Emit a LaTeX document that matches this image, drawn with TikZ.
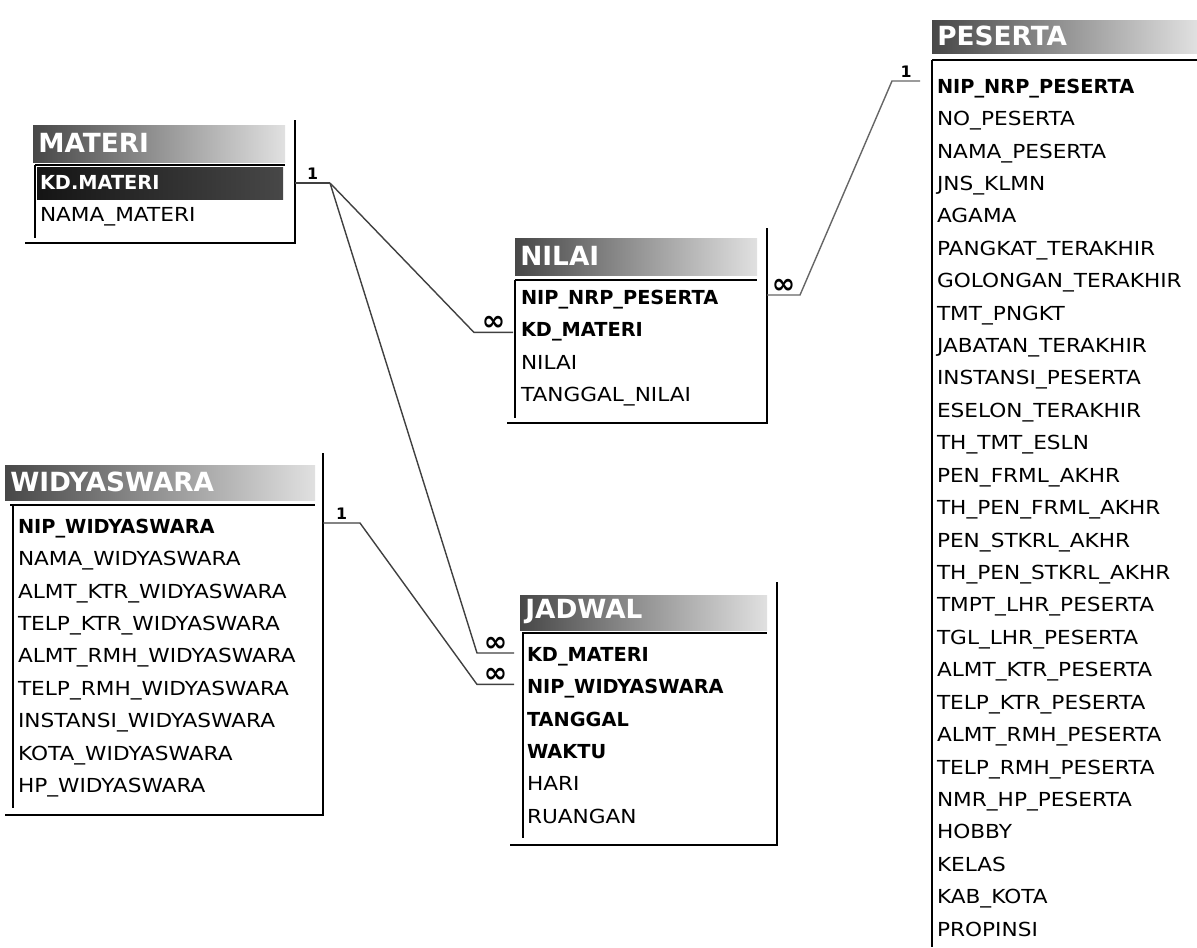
\documentclass[tikz,border=0pt]{standalone}
\usepackage{fontspec}
\setmainfont{DejaVu Sans}[FakeStretch=1.12, BoldFeatures={FakeStretch=1.0}]
\usetikzlibrary{positioning}
\newcommand\fieldfont{\fontsize{11}{13}\selectfont}
\newcommand\titlefont{\fontsize{15}{17}\selectfont\bfseries}
\begin{document}
\begin{tikzpicture}[
    x=0.02cm, y=-0.02cm,
    node distance=0.262cm,
    field/.style={anchor=west, inner sep=0pt, outer sep=0pt, text height=9pt, text depth=2pt, font=\fieldfont},
    key/.style={field, font=\fieldfont\bfseries},
    nextrow/.style={below=of #1.south west, anchor=north west},
    tabletitle/.style={anchor=west, inner sep=0pt, text=white, font=\titlefont},
    titlebar/.style={left color=black!72, right color=black!12},
    rule/.style={line width=1pt},
    frame/.style={line width=1.4pt},
    rel/.style={line width=0.8pt, black!75},
    card/.style={font=\bfseries\small, inner sep=1.5pt, text=black},
    many/.style={card, inner sep=0.5pt, font=\fontsize{16}{16}\selectfont\bfseries}
]
    \useasboundingbox (0,0) rectangle (1197,947);

    % MATERI
    \shade[titlebar] (33,125) rectangle (285,162);
    \node[tabletitle] (materi) at (38,143) {MATERI};
    \fill[left color=black!92, right color=black!72] (37,167) rectangle (283,199);
    \draw[rule] (35,165) -- (285,165);
    \draw[rule] (35,165) -- (35,238);
    \coordinate (materi-se) at (295,243);
    \draw[frame] (295,120) -- (materi-se) -- (25,243);
    \node[key, text=white] (mat-kd) at (40,183) {KD.MATERI};
    \node[field, nextrow=mat-kd] (mat-nama) {NAMA\_MATERI};

    % NILAI
    \shade[titlebar] (515,238) rectangle (757,275);
    \node[tabletitle] (nilai) at (520,256) {NILAI};
    \draw[rule] (515,280) -- (757,280);
    \draw[rule] (515,280) -- (515,418);
    \coordinate (nilai-se) at (767,423);
    \draw[frame] (767,228) -- (nilai-se) -- (507,423);
    \node[key] (nil-nip) at (521,298) {NIP\_NRP\_PESERTA};
    \node[key, nextrow=nil-nip] (nil-kd) {KD\_MATERI};
    \node[field, nextrow=nil-kd] (nil-nilai) {NILAI};
    \node[field, nextrow=nil-nilai] (nil-tgl) {TANGGAL\_NILAI};

    % WIDYASWARA
    \shade[titlebar] (5,465) rectangle (315,500);
    \node[tabletitle] (widya) at (10,482) {WIDYASWARA};
    \draw[rule] (10,505) -- (315,505);
    \draw[rule] (13,505) -- (13,808);
    \coordinate (widya-se) at (323,815);
    \draw[frame] (323,453) -- (widya-se) -- (5,815);
    \node[key] (wid-nip) at (18,527) {NIP\_WIDYASWARA};
    \node[field, nextrow=wid-nip] (wid-nama) {NAMA\_WIDYASWARA};
    \node[field, nextrow=wid-nama] (wid-almtk) {ALMT\_KTR\_WIDYASWARA};
    \node[field, nextrow=wid-almtk] (wid-telpk) {TELP\_KTR\_WIDYASWARA};
    \node[field, nextrow=wid-telpk] (wid-almtr) {ALMT\_RMH\_WIDYASWARA};
    \node[field, nextrow=wid-almtr] (wid-telpr) {TELP\_RMH\_WIDYASWARA};
    \node[field, nextrow=wid-telpr] (wid-inst) {INSTANSI\_WIDYASWARA};
    \node[field, nextrow=wid-inst] (wid-kota) {KOTA\_WIDYASWARA};
    \node[field, nextrow=wid-kota] (wid-hp) {HP\_WIDYASWARA};

    % JADWAL
    \shade[titlebar] (520,595) rectangle (767,630);
    \node[tabletitle] (jadwal) at (525,612) {JADWAL};
    \draw[rule] (522,633) -- (767,633);
    \draw[rule] (523,633) -- (523,838);
    \coordinate (jadwal-se) at (777,845);
    \draw[frame] (777,582) -- (jadwal-se) -- (510,845);
    \node[key] (jad-kd) at (527,655) {KD\_MATERI};
    \node[key, nextrow=jad-kd] (jad-nip) {NIP\_WIDYASWARA};
    \node[key, nextrow=jad-nip] (jad-tgl) {TANGGAL};
    \node[key, nextrow=jad-tgl] (jad-waktu) {WAKTU};
    \node[field, nextrow=jad-waktu] (jad-hari) {HARI};
    \node[field, nextrow=jad-hari] (jad-ruang) {RUANGAN};

    % PESERTA
    \shade[titlebar] (932,20) rectangle (1197,53);
    \node[tabletitle] (peserta) at (937,36) {PESERTA};
    \draw[rule] (932,60) -- (1197,60);
    \draw[rule] (932,60) -- (932,947);
    \node[key] (pes-nip) at (937,87) {NIP\_NRP\_PESERTA};
    \node[field, nextrow=pes-nip] (pes-no) {NO\_PESERTA};
    \node[field, nextrow=pes-no] (pes-nama) {NAMA\_PESERTA};
    \node[field, nextrow=pes-nama] (pes-jns) {JNS\_KLMN};
    \node[field, nextrow=pes-jns] (pes-agama) {AGAMA};
    \node[field, nextrow=pes-agama] (pes-pangkat) {PANGKAT\_TERAKHIR};
    \node[field, nextrow=pes-pangkat] (pes-gol) {GOLONGAN\_TERAKHIR};
    \node[field, nextrow=pes-gol] (pes-tmt) {TMT\_PNGKT};
    \node[field, nextrow=pes-tmt] (pes-jab) {JABATAN\_TERAKHIR};
    \node[field, nextrow=pes-jab] (pes-inst) {INSTANSI\_PESERTA};
    \node[field, nextrow=pes-inst] (pes-eselon) {ESELON\_TERAKHIR};
    \node[field, nextrow=pes-eselon] (pes-thtmt) {TH\_TMT\_ESLN};
    \node[field, nextrow=pes-thtmt] (pes-frml) {PEN\_FRML\_AKHR};
    \node[field, nextrow=pes-frml] (pes-thfrml) {TH\_PEN\_FRML\_AKHR};
    \node[field, nextrow=pes-thfrml] (pes-stkrl) {PEN\_STKRL\_AKHR};
    \node[field, nextrow=pes-stkrl] (pes-thstkrl) {TH\_PEN\_STKRL\_AKHR};
    \node[field, nextrow=pes-thstkrl] (pes-tmpt) {TMPT\_LHR\_PESERTA};
    \node[field, nextrow=pes-tmpt] (pes-tgl) {TGL\_LHR\_PESERTA};
    \node[field, nextrow=pes-tgl] (pes-almtk) {ALMT\_KTR\_PESERTA};
    \node[field, nextrow=pes-almtk] (pes-telpk) {TELP\_KTR\_PESERTA};
    \node[field, nextrow=pes-telpk] (pes-almtr) {ALMT\_RMH\_PESERTA};
    \node[field, nextrow=pes-almtr] (pes-telpr) {TELP\_RMH\_PESERTA};
    \node[field, nextrow=pes-telpr] (pes-hp) {NMR\_HP\_PESERTA};
    \node[field, nextrow=pes-hp] (pes-hobby) {HOBBY};
    \node[field, nextrow=pes-hobby] (pes-kelas) {KELAS};
    \node[field, nextrow=pes-kelas] (pes-kab) {KAB\_KOTA};
    \node[field, nextrow=pes-kab] (pes-prop) {PROPINSI};

    % relationships
    \draw[rel] (mat-kd -| materi-se) -- node[card, above] (mat-one) {1} ++(35,0) coordinate (mat-out);
    \draw[rel] (mat-out) -- ([shift={(-47,2)}]nil-kd.west)
        -- node[many, above] (nil-many) {∞} ([shift={(-8,2)}]nil-kd.west);
    \draw[rel] (mat-out) -- ([shift={(-50,-2)}]jad-kd.west)
        -- node[many, above] (jad-many1) {∞} ([shift={(-13,-2)}]jad-kd.west);
    \draw[rel] ([yshift=0.08cm]wid-nip -| widya-se) -- node[card, above] (wid-one) {1} ++(37,0)
        -- ([shift={(-50,-3)}]jad-nip.west)
        -- node[many, above] (jad-many2) {∞} ([shift={(-13,-3)}]jad-nip.west);
    \draw[rel, black!60] ([yshift=0.06cm]nil-nip -| nilai-se) -- node[many, above] (nil-many2) {∞} ++(33,0)
        -- ([shift={(-45,-6)}]pes-nip.west)
        -- node[card, above] (pes-one) {1} ([shift={(-17,-6)}]pes-nip.west);
\end{tikzpicture}
\end{document}
